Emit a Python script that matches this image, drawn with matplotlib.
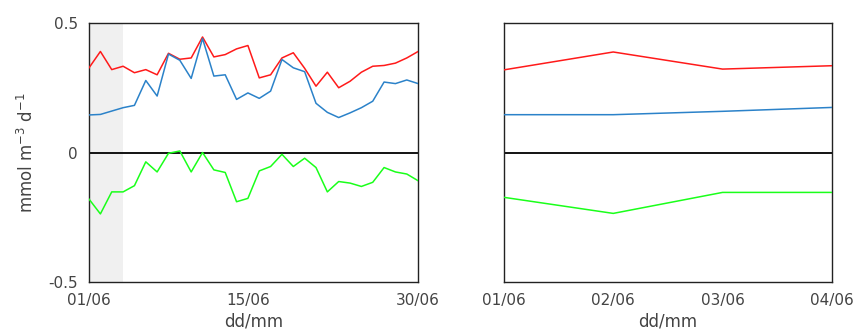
import numpy as np
import matplotlib
matplotlib.use('Agg')
import matplotlib.pyplot as plt

# Daily values for June (day of month)
days = np.arange(1, 31)
red = [0.327, 0.39, 0.32, 0.333, 0.308, 0.32, 0.30, 0.383, 0.36, 0.365,
       0.446, 0.369, 0.378, 0.40, 0.413, 0.288, 0.30, 0.365, 0.385, 0.325,
       0.256, 0.31, 0.25, 0.275, 0.31, 0.333, 0.336, 0.345, 0.365, 0.39]
blue = [0.145, 0.147, 0.16, 0.173, 0.182, 0.278, 0.218, 0.38, 0.356, 0.286,
        0.44, 0.295, 0.30, 0.205, 0.23, 0.209, 0.237, 0.359, 0.327, 0.312,
        0.19, 0.155, 0.135, 0.153, 0.173, 0.198, 0.272, 0.266, 0.28, 0.266]
green = [-0.18, -0.237, -0.152, -0.152, -0.128, -0.036, -0.075, -0.003, 0.006, -0.075,
         0.0, -0.067, -0.077, -0.19, -0.177, -0.071, -0.054, -0.007, -0.054, -0.022,
         -0.058, -0.152, -0.112, -0.118, -0.131, -0.115, -0.058, -0.075, -0.083, -0.109]

# Zoomed period: 01/06 - 04/06
zoom_days = [1, 2, 3, 4]
zoom_red = [0.319, 0.388, 0.322, 0.335]
zoom_blue = [0.146, 0.146, 0.159, 0.174]
zoom_green = [-0.173, -0.235, -0.154, -0.154]

c_red = '#ff1a1a'
c_blue = '#2b82c9'
c_green = '#1aff1a'
txt = '#444444'

fig = plt.figure(figsize=(8.57, 3.33), dpi=100)
ax1 = fig.add_axes([0.1039, 0.153, 0.384, 0.778])
ax2 = fig.add_axes([0.588, 0.153, 0.3827, 0.778])

ax1.axvspan(1, 4, color='#f0f0f0', zorder=0, lw=0)
for ax, x, r, b, g in [(ax1, days, red, blue, green),
                       (ax2, zoom_days, zoom_red, zoom_blue, zoom_green)]:
    ax.axhline(0, color='black', lw=1.3, zorder=1)
    ax.plot(x, r, color=c_red, lw=1.1, zorder=3)
    ax.plot(x, b, color=c_blue, lw=1.1, zorder=3)
    ax.plot(x, g, color=c_green, lw=1.1, zorder=3)
    ax.set_ylim(-0.5, 0.5)
    ax.set_xlim(x[0], x[-1])
    ax.tick_params(length=0, labelsize=11, labelcolor=txt, pad=8)
    ax.set_xlabel('dd/mm', fontsize=12, color=txt, labelpad=3)
    for s in ax.spines.values():
        s.set_color('#222222')
        s.set_linewidth(1.0)

ax1.set_xticks([1, 15, 30])
ax1.set_xticklabels(['01/06', '15/06', '30/06'])
ax1.set_yticks([-0.5, 0, 0.5])
ax1.set_yticklabels(['-0.5', '0', '0.5'])
ax1.set_ylabel('mmol m$^{-3}$ d$^{-1}$', fontsize=12, color=txt, labelpad=8)

ax2.set_xticks(zoom_days)
ax2.set_xticklabels(['01/06', '02/06', '03/06', '04/06'])
ax2.set_yticks([])

fig.savefig('out.png', dpi=100)
